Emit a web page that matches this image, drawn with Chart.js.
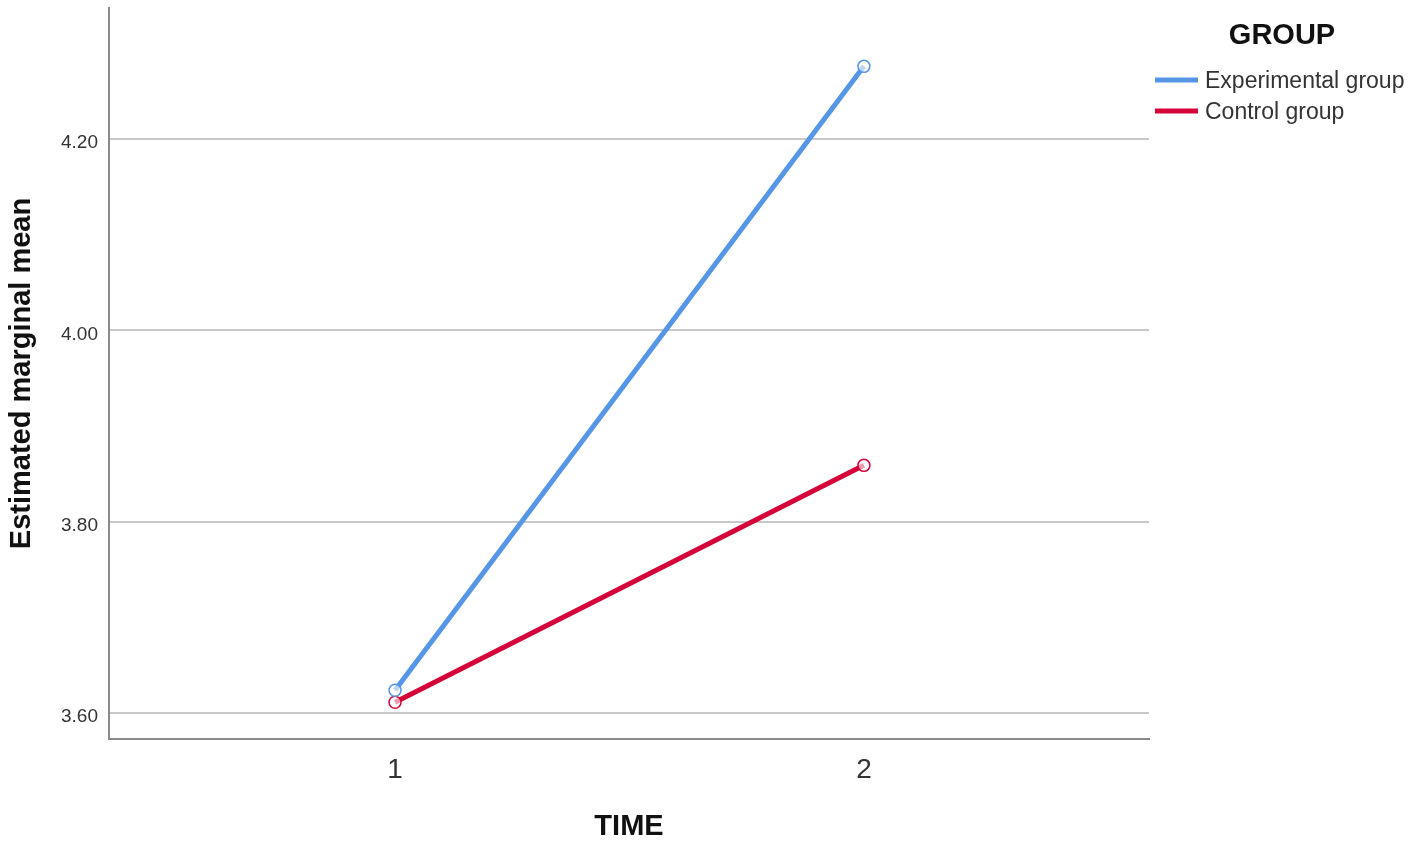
<!DOCTYPE html>
<html>
<head>
<meta charset="utf-8">
<script src="https://cdn.jsdelivr.net/npm/chart.js@4/dist/chart.umd.min.js"></script>
<style>
  html, body { margin: 0; padding: 0; background: #fff; }
  #wrap { width: 1418px; height: 845px; position: relative; }
</style>
</head>
<body>
<div id="wrap"><canvas id="emmChart" width="1418" height="845"></canvas></div>
<script>
// values
const timePoints = [1, 2];
const experimental = [3.624, 4.276];
const control = [3.6115, 3.859];
const yTicks = [3.60, 3.80, 4.00, 4.20];
const seriesNames = ["Experimental group", "Control group"];
const seriesColors = ["#5596e6", "#d5053a"];

const FONT = "'Liberation Sans', Arial, sans-serif";

// draws the GROUP legend to the right of the plot
const groupLegend = {
  id: "groupLegend",
  afterDraw(chart) {
    const ctx = chart.ctx;
    ctx.save();
    ctx.fillStyle = "#111";
    ctx.font = "bold 29px " + FONT;
    ctx.textAlign = "center";
    ctx.textBaseline = "middle";
    ctx.fillText("GROUP", 1282, 36);
    ctx.font = "23px " + FONT;
    ctx.textAlign = "left";
    chart.data.datasets.forEach((ds, i) => {
      const y = 80 + i * 31;
      ctx.strokeStyle = ds.borderColor;
      ctx.lineWidth = 5;
      ctx.beginPath();
      ctx.moveTo(1155, y);
      ctx.lineTo(1198, y);
      ctx.stroke();
      ctx.fillStyle = "#333";
      ctx.fillText(ds.label, 1205, y + 2);
    });
    ctx.restore();
  }
};

const toXY = arr => arr.map((v, i) => ({ x: timePoints[i], y: v }));

new Chart(document.getElementById("emmChart").getContext("2d"), {
  type: "line",
  data: {
    datasets: [experimental, control].map((vals, i) => ({
      label: seriesNames[i],
      data: toXY(vals),
      borderColor: seriesColors[i],
      backgroundColor: seriesColors[i],
      borderWidth: 5,
      pointRadius: 6,
      pointBorderWidth: 1.5,
      pointBackgroundColor: "rgba(255,255,255,0.6)",
      pointBorderColor: seriesColors[i],
      tension: 0
    }))
  },
  options: {
    responsive: false,
    animation: false,
    layout: { padding: { left: 0, top: 8, right: 269, bottom: 0 } },
    plugins: { legend: { display: false }, tooltip: { enabled: false } },
    scales: {
      x: {
        type: "linear",
        min: 0.39,
        max: 2.608,
        afterBuildTicks: s => { s.ticks = timePoints.map(v => ({ value: v })); },
        afterFit: s => { s.height = 845 - 739; s.paddingLeft = 0; s.paddingRight = 0; },
        grid: { display: false, drawTicks: false },
        border: { color: "#8a8a8a", width: 2 },
        ticks: {
          padding: 14,
          color: "#333",
          font: { family: FONT, size: 28 },
          callback: v => String(v)
        },
        title: {
          display: true,
          text: "TIME",
          color: "#111",
          font: { family: FONT, size: 29, weight: "bold" },
          padding: { top: 0, bottom: 1 }
        }
      },
      y: {
        min: 3.573,
        max: 4.337,
        afterBuildTicks: s => { s.ticks = yTicks.map(v => ({ value: v })); },
        afterFit: s => { s.width = 109; s.paddingTop = 0; s.paddingBottom = 0; },
        grid: { color: "#c8c8c8", lineWidth: 2, drawTicks: false },
        border: { color: "#8a8a8a", width: 2 },
        ticks: {
          padding: 11,
          labelOffset: 4,
          color: "#333",
          font: { family: FONT, size: 19 },
          callback: v => v.toFixed(2)
        },
        title: {
          display: true,
          text: "Estimated marginal mean",
          color: "#111",
          font: { family: FONT, size: 29, weight: "bold" },
          padding: { top: 5, bottom: 0 }
        }
      }
    }
  },
  plugins: [groupLegend]
});
</script>
</body>
</html>
